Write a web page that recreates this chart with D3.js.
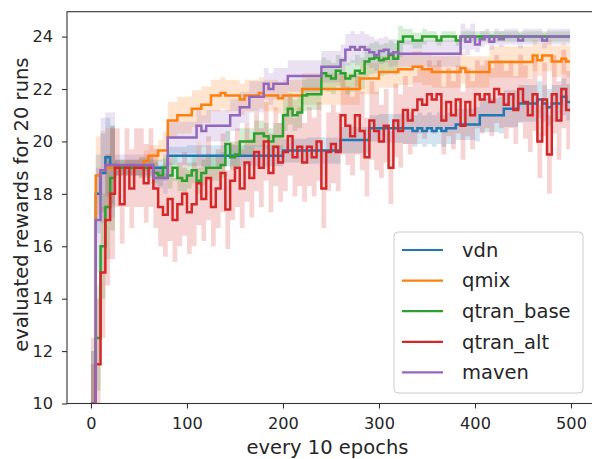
<!DOCTYPE html>
<html><head><meta charset="utf-8">
<script src="https://cdn.jsdelivr.net/npm/d3@7"></script>
<style>body{margin:0;background:#fff}svg{display:block;font-family:"DejaVu Sans",sans-serif}</style>
</head><body><svg id="c" width="592" height="459"></svg>
<script>
// ---- data (sampled every 5 epochs-of-10) ----
const STEP = 5;
const LAST_EPOCH = 499;
const seriesNames = ["vdn","qmix","qtran_base","qtran_alt","maven"];
const colors = ["#1f77b4","#ff7f0e","#2ca02c","#d62728","#9467bd"];
const xTicks = [0,100,200,300,400,500];
const yTicks = [10,12,14,16,18,20,22,24];

const vdn = [10.0,18.0,18.8,19.4,19.1,
 19.0,19.0,19.0,19.0,19.0,19.0,19.0,19.0,19.0,19.0,19.0,
 19.45,19.45,19.45,19.45,19.45,19.45,19.45,19.45,19.45,19.45,19.45,19.45,19.45,19.45,19.45,19.45,19.45,19.45,19.45,19.45,19.45,19.45,19.45,19.45,
 19.65,19.65,19.65,19.65,19.65,19.65,19.65,19.65,19.65,19.65,19.65,19.65,
 20.05,20.05,20.05,20.05,20.05,20.05,
 20.5,20.5,20.5,20.5,20.5,20.5,20.5,20.5,20.5,20.4,20.5,20.4,20.5,20.4,20.5,20.4,20.5,20.5,
 20.65,20.65,20.65,20.65,20.65,
 21.0,21.0,21.0,21.0,21.0,
 21.25,21.25,21.25,
 21.45,21.45,21.45,21.45,21.6,21.45,21.3,21.45,21.45,
 21.7,21.5];
const qmix = [10.0,18.7,18.9,19.0,
 19.0,19.0,19.0,19.0,19.0,19.0,19.0,
 19.25,19.45,19.45,19.65,19.65,
 20.8,20.8,21.0,21.0,21.0,
 21.25,21.25,21.4,21.4,
 21.75,21.75,21.85,21.75,21.75,21.75,21.6,21.75,21.75,21.75,21.85,21.75,21.75,21.75,21.65,21.75,21.75,21.75,21.75,
 22.0,22.0,22.0,22.0,22.0,22.0,22.0,22.0,22.0,22.0,22.0,22.0,
 22.4,22.4,22.4,22.4,
 22.65,22.65,22.65,22.65,
 22.75,22.75,22.75,22.85,22.85,22.75,22.75,
 22.65,22.65,22.65,22.65,22.65,22.65,22.8,22.65,22.65,22.65,22.65,22.65,
 23.03,23.03,23.03,23.03,23.03,23.03,23.03,23.03,23.03,
 23.28,23.1,23.28,23.28,
 23.05,23.05,23.15,23.05];
const qtran_base = [10.0,12.5,16.0,17.5,18.6,19.0,
 19.0,19.0,19.0,19.0,19.0,19.0,19.0,
 18.8,18.7,19.0,18.7,19.0,18.6,18.5,18.7,18.9,18.5,18.8,19.0,
 19.0,19.0,19.1,19.9,19.4,19.5,20.0,20.0,20.0,20.3,20.3,20.2,20.0,20.2,20.2,
 21.0,21.25,21.0,21.1,21.75,21.8,21.8,21.8,22.6,22.5,22.4,22.7,22.6,22.4,22.5,22.7,22.6,23.05,23.15,23.2,23.1,23.15,23.3,23.15,23.8,
 24.0,24.0,23.85,23.85,24.0,24.0,24.0,23.85,24.0,24.0,24.0,23.85,24.0,24.0,24.0,24.0,24.0,24.0,24.0,24.0,24.0,24.0,24.0,24.0,24.0,24.0,24.0,24.0,24.0,24.0,24.0,24.0,24.0,24.0,24.0];
const qtran_alt = [10.0,11.5,15.0,17.0,18.0,19.0,17.6,19.0,18.2,19.0,
 19.0,18.4,19.0,18.2,17.5,17.2,17.8,17.0,17.6,18.0,
 17.3,17.6,18.4,17.8,18.6,17.5,18.2,18.8,17.4,18.5,
 19.0,18.2,19.2,18.6,19.6,19.0,20.0,18.8,19.8,19.2,
 19.6,20.2,19.4,19.8,19.2,19.8,19.4,20.0,18.2,19.6,
 19.9,19.6,21.0,20.6,20.2,21.0,20.4,19.4,20.8,20.4,
 20.0,20.6,19.0,20.8,20.4,21.2,20.8,21.2,21.6,21.4,
 21.8,21.6,21.8,20.8,21.5,21.0,21.6,20.6,21.5,21.0,
 21.8,21.6,21.8,21.5,22.0,21.8,21.4,21.8,21.2,22.0,
 21.5,21.0,21.8,20.0,21.6,19.5,21.8,20.8,22.0,21.2];
const maven = [10.0,17.0,18.9,19.1,
 19.1,19.1,19.1,19.1,19.1,19.1,19.1,19.1,19.1,
 18.6,18.6,18.6,
 20.15,20.15,20.15,20.15,20.15,20.15,
 20.6,20.4,20.6,20.6,20.6,20.6,20.6,
 21.0,21.0,21.3,21.3,
 21.7,21.7,21.7,
 22.2,22.0,22.2,22.2,22.2,
 22.5,22.5,22.5,22.5,22.5,22.5,22.5,
 22.85,22.85,22.85,22.85,
 23.1,
 23.5,23.6,23.5,23.6,23.5,
 23.4,23.3,23.45,23.5,23.35,23.4,
 23.35,23.35,23.35,23.35,23.35,23.35,23.35,23.35,23.35,23.35,23.35,23.35,23.35,
 24.0,23.8,24.0,23.7,23.9,24.0,23.8,24.0,23.9,
 24.0,24.0,24.0,23.85,24.0,24.0,24.0,24.0,23.85,24.0,24.0,24.0,24.0,24.0];

// half-width of the shaded band, per block of 25 epochs
const BAND_BLOCK = 25;
const vdnBand = [1.5,0.3,0.3,0.35,0.4,0.4,0.4,0.4,0.45,0.5,0.5,0.5,0.55,0.6,0.6,0.6,0.65,0.7,0.7,0.7];
const qmixBand = [1.5,0.3,0.4,0.7,0.7,0.6,0.6,0.6,0.6,0.6,0.6,0.6,0.6,0.6,0.6,0.6,0.6,0.6,0.6,0.6];
const qtranBaseBand = [2.0,0.3,0.4,0.5,0.5,0.5,0.5,0.5,0.6,0.6,0.6,0.6,0.6,0.3,0.2,0.2,0.2,0.2,0.2,0.2];
const qtranAltBand = [2.5,1.5,1.5,1.6,1.6,1.5,1.5,1.5,1.5,1.5,1.5,1.5,1.4,1.3,1.3,1.3,1.3,1.3,1.4,1.5];
const mavenBand = [2.0,0.4,0.4,0.6,0.6,0.6,0.6,0.6,0.6,0.6,0.6,0.6,0.5,0.5,0.5,0.5,0.3,0.3,0.3,0.3];

const seriesValues = [vdn,qmix,qtran_base,qtran_alt,maven];
const seriesBands = [vdnBand,qmixBand,qtranBaseBand,qtranAltBand,mavenBand];

// ---- drawing ----
const svg = d3.select("#c");
const L = 67, R = 594, T = 11.7, B = 403.5;
const x = d3.scaleLinear().domain([-24.95, 523.95]).range([L, R]);
const y = d3.scaleLinear().domain([10, 24.95]).range([B, T]);

svg.append("defs").append("clipPath").attr("id","clip")
  .append("rect").attr("x",L).attr("y",T).attr("width",R-L).attr("height",B-T);

function points(vals, band){
  const pts = vals.map((v,i)=>{
    const hw = band[Math.floor(i*STEP/BAND_BLOCK)];
    return {e:i*STEP, v, lo:v-hw, hi:v+hw};
  });
  const last = pts[pts.length-1];
  pts.push({e:LAST_EPOCH, v:last.v, lo:last.lo, hi:last.hi});
  return pts;
}
const data = seriesValues.map((v,k)=>points(v, seriesBands[k]));

const g = svg.append("g").attr("clip-path","url(#clip)");
const area = d3.area().curve(d3.curveStepAfter).x(d=>x(d.e)).y0(d=>y(d.lo)).y1(d=>y(d.hi));
const line = d3.line().curve(d3.curveStepAfter).x(d=>x(d.e)).y(d=>y(d.v));

data.forEach((pts,k)=>{
  g.append("path").attr("d",area(pts)).attr("fill",colors[k]).attr("fill-opacity",0.2).attr("stroke","none");
});
data.forEach((pts,k)=>{
  g.append("path").attr("d",line(pts)).attr("fill","none").attr("stroke",colors[k])
   .attr("stroke-width",2.5).attr("stroke-linejoin","miter");
});

// axes
const xa = svg.append("g").attr("transform",`translate(0,${B})`)
  .call(d3.axisBottom(x).tickValues(xTicks).tickSize(5).tickPadding(9).tickFormat(d3.format("d")));
const ya = svg.append("g").attr("transform",`translate(${L},0)`)
  .call(d3.axisLeft(y).tickValues(yTicks).tickSize(5).tickPadding(9).tickFormat(d3.format("d")));
[xa,ya].forEach(a=>{
  a.select(".domain").remove();
  a.selectAll(".tick line").attr("stroke","#333").attr("stroke-width",1.1);
  a.selectAll(".tick text").attr("fill","#262626").style("font-size","16.2px").style("font-family","DejaVu Sans");
});
svg.append("rect").attr("x",L).attr("y",T).attr("width",R-L).attr("height",B-T)
  .attr("fill","none").attr("stroke","#333").attr("stroke-width",1.1);

// labels
svg.append("text").attr("x",(L+R)/2 - 3).attr("y",454).attr("text-anchor","middle")
  .attr("fill","#262626").style("font-size","19.5px").text("every 10 epochs");
svg.append("text").attr("transform",`translate(28,${(T+B)/2 - 3}) rotate(-90)`).attr("text-anchor","middle")
  .attr("fill","#262626").style("font-size","19.5px").text("evaluated rewards for 20 runs");

// legend
const lg = svg.append("g");
lg.append("rect").attr("x",394).attr("y",232).attr("width",189).attr("height",161).attr("rx",4)
  .attr("fill","#fff").attr("fill-opacity",0.8).attr("stroke","#cccccc").attr("stroke-width",1);
seriesNames.forEach((n,k)=>{
  const yy = 250 + k*30.6;
  lg.append("line").attr("x1",402).attr("x2",443).attr("y1",yy).attr("y2",yy)
    .attr("stroke",colors[k]).attr("stroke-width",2.2);
  lg.append("text").attr("x",462).attr("y",yy).attr("dy","0.35em").attr("fill","#262626")
    .style("font-size","19.5px").text(n);
});
</script></body></html>
